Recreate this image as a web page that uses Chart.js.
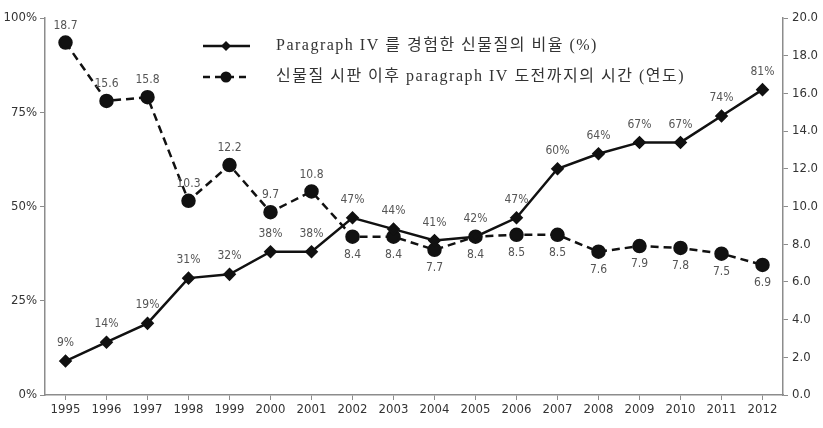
<!DOCTYPE html>
<html>
<head>
<meta charset="utf-8">
<script src="https://cdn.jsdelivr.net/npm/chart.js@4/dist/chart.umd.min.js"></script>
<style>
  body { margin: 0; background: #fff; }
  #wrap { width: 823px; height: 428px; }
</style>
</head>
<body>
<div id="wrap"><canvas id="chart" width="823" height="428"></canvas></div>
<script>
// Chart data
const years = ['1995', '1996', '1997', '1998', '1999', '2000', '2001', '2002', '2003',
  '2004', '2005', '2006', '2007', '2008', '2009', '2010', '2011', '2012'];
const sharePct = [9, 14, 19, 31, 32, 38, 38, 47, 44, 41, 42, 47, 60, 64, 67, 67, 74, 81];
const yearsToChallenge = [18.7, 15.6, 15.8, 10.3, 12.2, 9.7, 10.8, 8.4, 8.4, 7.7, 8.4, 8.5, 8.5, 7.6, 7.9, 7.8, 7.5, 6.9];
const seriesNames = [
  'Paragraph IV 를 경험한 신물질의 비율 (%)',
  '신물질 시판 이후 paragraph IV 도전까지의 시간 (연도)'
];
const pctTicks = [0, 25, 50, 75, 100];
const yearTicks = [0, 2, 4, 6, 8, 10, 12, 14, 16, 18, 20];

const tickFont = { family: '"DejaVu Sans Condensed", "Liberation Sans Narrow", sans-serif', size: 13 };
const axisGray = '#8c8c8c';

// draws value labels next to each point
const valueLabels = {
  id: 'valueLabels',
  afterDatasetsDraw(chart) {
    const ctx = chart.ctx;
    ctx.save();
    ctx.font = '12px "DejaVu Sans Condensed", sans-serif';
    ctx.fillStyle = '#555';
    ctx.textAlign = 'center';
    ctx.textBaseline = 'middle';
    chart.getDatasetMeta(0).data.forEach((pt, i) => {
      ctx.fillText(sharePct[i] + '%', pt.x, pt.y - 18);
    });
    chart.getDatasetMeta(1).data.forEach((pt, i) => {
      const below = i >= 7;
      ctx.fillText(yearsToChallenge[i].toFixed(1), pt.x, below ? pt.y + 18 : pt.y - 17);
    });
    ctx.restore();
  }
};

// legend inside the plot, two rows
const innerLegend = {
  id: 'innerLegend',
  afterDraw(chart) {
    const ctx = chart.ctx;
    ctx.save();
    ctx.strokeStyle = '#111';
    ctx.fillStyle = '#111';
    ctx.lineWidth = 2.5;
    // row 1
    ctx.beginPath();
    ctx.moveTo(203, 46);
    ctx.lineTo(250, 46);
    ctx.stroke();
    ctx.beginPath();
    ctx.moveTo(226, 41); ctx.lineTo(231, 46); ctx.lineTo(226, 51); ctx.lineTo(221, 46);
    ctx.closePath();
    ctx.fill();
    // row 2
    ctx.setLineDash([7, 5]);
    ctx.beginPath();
    ctx.moveTo(203, 77);
    ctx.lineTo(250, 77);
    ctx.stroke();
    ctx.setLineDash([]);
    ctx.beginPath();
    ctx.arc(226, 77, 5.5, 0, Math.PI * 2);
    ctx.fill();

    ctx.fillStyle = '#333';
    ctx.font = '16px "Liberation Serif", "Noto Sans CJK KR", serif';
    ctx.letterSpacing = '1.5px';
    ctx.textBaseline = 'middle';
    ctx.fillText(seriesNames[0], 276, 46);
    ctx.fillText(seriesNames[1], 276, 77);
    ctx.restore();
  }
};

new Chart(document.getElementById('chart'), {
  type: 'line',
  data: {
    labels: years,
    datasets: [{
      label: seriesNames[0],
      data: sharePct,
      yAxisID: 'y',
      borderColor: '#111',
      backgroundColor: '#111',
      borderWidth: 2.5,
      pointStyle: 'rectRot',
      pointRadius: 5,
      pointHoverRadius: 5,
      tension: 0
    }, {
      label: seriesNames[1],
      data: yearsToChallenge,
      yAxisID: 'y1',
      borderColor: '#111',
      backgroundColor: '#111',
      borderWidth: 2.5,
      borderDash: [8, 5],
      pointStyle: 'circle',
      pointRadius: 6,
      pointHoverRadius: 6,
      tension: 0
    }]
  },
  options: {
    responsive: false,
    animation: false,
    layout: { padding: { top: 18, left: 0, right: 0, bottom: 0 } },
    plugins: { legend: { display: false }, tooltip: { enabled: false } },
    scales: {
      x: {
        offset: true,
        afterFit: axis => { axis.height = 33; },
        grid: { drawOnChartArea: false, color: axisGray, tickLength: 5 },
        border: { color: axisGray, width: 1.5 },
        ticks: { color: '#333', font: tickFont, maxRotation: 0, padding: 2 }
      },
      y: {
        position: 'left',
        min: 0, max: 100,
        afterBuildTicks: axis => { axis.ticks = pctTicks.map(v => ({ value: v })); },
        afterFit: axis => { axis.width = 45; },
        grid: { drawOnChartArea: false, color: axisGray, tickLength: 5 },
        border: { color: axisGray, width: 1.5 },
        ticks: { color: '#333', font: tickFont, padding: 3, callback: v => v + '%' }
      },
      y1: {
        position: 'right',
        min: 0, max: 20,
        afterBuildTicks: axis => { axis.ticks = yearTicks.map(v => ({ value: v })); },
        afterFit: axis => { axis.width = 40; },
        grid: { drawOnChartArea: false, color: axisGray, tickLength: 5 },
        border: { color: axisGray, width: 1.5 },
        ticks: { color: '#333', font: tickFont, padding: 4, callback: v => v.toFixed(1) }
      }
    }
  },
  plugins: [valueLabels, innerLegend]
});
</script>
</body>
</html>
